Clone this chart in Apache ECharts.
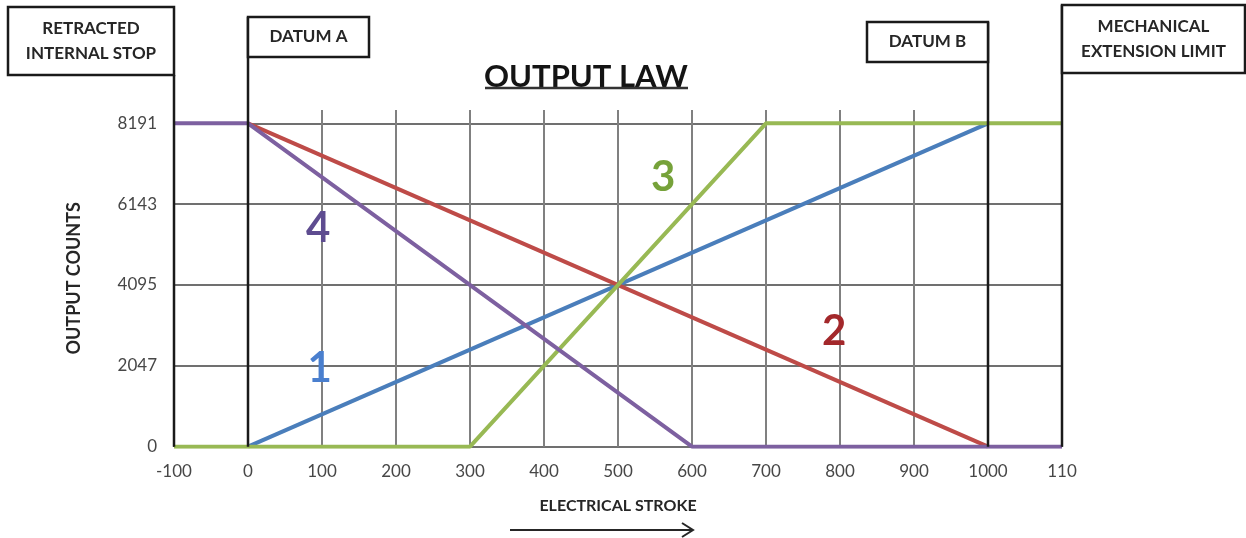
<!DOCTYPE html>
<html>
<head>
<meta charset="utf-8">
<script src="https://cdn.jsdelivr.net/npm/echarts@6/dist/echarts.min.js"></script>
<style>html,body{margin:0;padding:0;background:#fff;}#c{width:1246px;height:538px;}</style>
</head>
<body>
<div id="c"></div>
<script>
// ---- data ----
const xTickLabels = ['-100','0','100','200','300','400','500','600','700','800','900','1000','110'];
const yTickLabels = ['0','2047','4095','6143','8191'];
const law1 = [[0,0],[1000,8191]];
const law2 = [[0,8191],[1000,0]];
const law3 = [[-100,0],[300,0],[700,8191],[1100,8191]];
const law4 = [[-100,8191],[0,8191],[600,0],[1100,0]];
const lawNames = ['1','2','3','4'];

const FONT = 'Lato';
const YSTEP = 2047.75;
const chart = echarts.init(document.getElementById('c'));

const xSplitColors = xTickLabels.map((t,i)=> (i===0||i===1||i===11||i===12) ? '#1a1a1a' : '#808080');

const option = {
  backgroundColor:'#fff',
  animation:false,
  title:{
    text:'OUTPUT LAW', left:479, top:56,
    textStyle:{fontFamily:FONT, fontSize:31, fontWeight:'bold', color:'#141414'}
  },
  grid:{left:174, right:184, top:110, bottom:91.3},
  xAxis:{
    type:'value', min:-100, max:1100, interval:100,
    name:'ELECTRICAL STROKE', nameLocation:'middle', nameGap:51,
    nameTextStyle:{fontFamily:FONT, fontSize:16, fontWeight:'bold', color:'#262626'},
    axisLine:{show:false}, axisTick:{show:false},
    axisLabel:{fontFamily:FONT, fontSize:17, color:'#474747', margin:16,
      formatter:(v)=> xTickLabels[Math.round((v+100)/100)]},
    splitLine:{show:true, lineStyle:{color:xSplitColors, width:2}}
  },
  yAxis:{
    type:'value', min:0, max:8528, interval:YSTEP,
    name:'OUTPUT COUNTS', nameLocation:'middle', nameGap:91, nameRotate:90,
    nameTextStyle:{fontFamily:FONT, fontSize:18, fontWeight:'bold', color:'#262626'},
    axisLine:{show:false}, axisTick:{show:false},
    axisLabel:{fontFamily:FONT, fontSize:17, color:'#474747', margin:17, showMaxLabel:false,
      formatter:(v)=> { const i = Math.round(v/YSTEP); return i < yTickLabels.length ? yTickLabels[i] : ''; }},
    splitLine:{show:true, showMaxLine:false, lineStyle:{color:'#707070', width:2}}
  },
  series:[
    {name:lawNames[0], type:'line', data:law1, symbol:'none', lineStyle:{color:'#4a7ebb', width:4}},
    {name:lawNames[1], type:'line', data:law2, symbol:'none', lineStyle:{color:'#be4b48', width:4}},
    {name:lawNames[2], type:'line', data:law3, symbol:'none', lineStyle:{color:'#98b954', width:4}},
    {name:lawNames[3], type:'line', data:law4, symbol:'none', lineStyle:{color:'#7d60a0', width:4}}
  ]
};
chart.setOption(option);

function P(x,y){ return chart.convertToPixel({gridIndex:0},[x,y]); }
const yBot = P(0,0)[1];
const xm100 = P(-100,0)[0], x0 = P(0,0)[0], x1000 = P(1000,0)[0], x1100 = P(1100,0)[0];

const boxStroke = {stroke:'#1a1a1a', lineWidth:2.5, fill:'#fff'};
const boxText = {fontFamily:FONT, fontSize:17, fontWeight:'bold', fill:'#262626', align:'center', verticalAlign:'middle', lineHeight:25};

function vline(x, yTop){
  return {type:'line', z:50, shape:{x1:x, y1:yBot, x2:x, y2:yTop}, style:{stroke:'#1a1a1a', lineWidth:2.5}};
}
function box(x1,y1,x2,y2,text){
  return [
    {type:'rect', z:60, shape:{x:x1, y:y1, width:x2-x1, height:y2-y1}, style:boxStroke},
    {type:'text', z:61, x:(x1+x2)/2, y:(y1+y2)/2, style:Object.assign({text:text}, boxText)}
  ];
}
const numStyle = (t,c)=>({text:t, fontFamily:FONT, fontSize:42, fontWeight:'bold', fill:c, align:'center', verticalAlign:'middle'});
const numPos = [[97,1970,'#4a7fce'],[792,2931,'#a3282b'],[561,6829,'#76a23a'],[95,5537,'#5e4c90']];

const graphics = [
  vline(xm100, 75), vline(x0, 17), vline(x1000, 22), vline(x1100, 5),
  ...box(8, 7, xm100, 75, 'RETRACTED\nINTERNAL STOP'),
  ...box(x0, 17, x0+121, 57, 'DATUM A'),
  ...box(x1000-121, 22, x1000, 62, 'DATUM B'),
  ...box(x1100, 5, 1245, 73, 'MECHANICAL\nEXTENSION LIMIT'),
  {type:'line', z:60, shape:{x1:485, y1:88, x2:688, y2:88}, style:{stroke:'#333', lineWidth:2.5}},
  {type:'line', z:60, shape:{x1:510, y1:530, x2:692, y2:530}, style:{stroke:'#262626', lineWidth:2}},
  {type:'polyline', z:60, shape:{points:[[682,523],[693,530],[682,537]]}, style:{stroke:'#262626', lineWidth:2, fill:'none'}}
];
numPos.forEach((p,i)=>{
  const q = P(p[0],p[1]);
  graphics.push({type:'text', z:70, x:q[0], y:q[1], style:numStyle(lawNames[i], p[2])});
});
chart.setOption({graphic:graphics});
</script>
</body>
</html>
